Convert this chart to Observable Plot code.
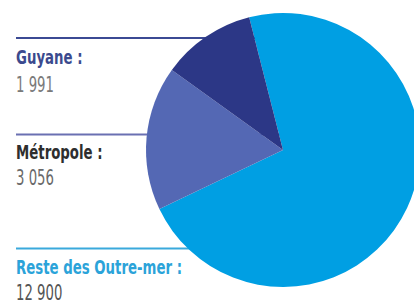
<!DOCTYPE html>
<html><head><meta charset="utf-8">
<script src="https://cdn.jsdelivr.net/npm/d3@7"></script>
<script src="https://cdn.jsdelivr.net/npm/@observablehq/plot@0.6"></script>
<style>body{margin:0;background:#fff;overflow:hidden}</style>
</head><body><div id="chart"></div>
<script>
// Data
const categories = ["Reste des Outre-mer", "Métropole", "Guyane"];
const values = [12900, 3056, 1991];
const labels = ["Reste des Outre-mer :", "Métropole :", "Guyane :"];
const valueLabels = ["12 900", "3 056", "1 991"];

// Styles
const sliceColors = ["#009fe3", "#5468b4", "#2c3786"];
const labelColors = ["#2ba3d9", "#2e2e2e", "#3b4a8e"];
const ruleColors = ["#3aa9dc", "#6a70b2", "#3b4a94"];
const valueColors = ["#555555", "#6a6a6a", "#7a7a7a"];

// Layout
const W = 414, H = 304;
const cx = 283, cy = 150, R = 137;
const startDeg = -14.3;
const ruleY = [248, 134, 37.5];
const labelY = [274, 159, 64];
const valueY = [300, 185, 92];
const textX = 16;
const labelSqueeze = 0.74, valueSqueeze = 0.67;

const data = categories.map((c, i) => ({
  category: c, value: values[i], label: labels[i], valueLabel: valueLabels[i],
  sliceColor: sliceColors[i], labelColor: labelColors[i], ruleColor: ruleColors[i],
  valueColor: valueColors[i], ruleY: ruleY[i], labelY: labelY[i], valueY: valueY[i]
}));

const s0 = startDeg * Math.PI / 180;
const arcs = d3.pie().sort(null).value(d => d.value).startAngle(s0).endAngle(s0 + 2 * Math.PI)(data);

function pieMark(index, scales, vals, dimensions, context) {
  const g = d3.select(context.document.createElementNS("http://www.w3.org/2000/svg", "g"));
  const x0 = scales.x(cx), y0 = scales.y(cy), r = scales.x(cx + R) - scales.x(cx);
  const arc = d3.arc().innerRadius(0).outerRadius(r);
  g.attr("transform", `translate(${x0},${y0})`)
    .selectAll("path").data(arcs).join("path")
    .attr("d", arc).attr("fill", d => d.data.sliceColor);
  return g.node();
}

const font = "'DejaVu Sans Condensed', 'DejaVu Sans', sans-serif";

const chart = Plot.plot({
  width: W, height: H,
  margin: 0,
  x: {domain: [0, W], range: [0, W], axis: null},
  y: {domain: [0, H], range: [0, H], axis: null},
  color: {type: "identity"},
  style: {background: "#fff"},
  marks: [
    Plot.ruleY(data, {y: "ruleY", x1: textX, x2: cx, stroke: d => d.ruleColor, strokeWidth: 2}),
    pieMark,
    Plot.text(data, {x: textX, y: "labelY", text: "label", fill: d => d.labelColor, textAnchor: "start", lineAnchor: "bottom", fontSize: 20, fontWeight: "bold", fontFamily: font}),
    Plot.text(data, {x: textX, y: "valueY", text: "valueLabel", fill: d => d.valueColor, textAnchor: "start", lineAnchor: "bottom", fontSize: 22, fontWeight: "normal", fontFamily: font})
  ]
});
// horizontally condense the text groups (the reference uses a condensed typeface)
const textGroups = chart.querySelectorAll('g[aria-label="text"]');
[labelSqueeze, valueSqueeze].forEach((k, i) => {
  if (textGroups[i]) textGroups[i].setAttribute("transform", `matrix(${k},0,0,1,${textX * (1 - k)},0)`);
});
document.getElementById("chart").appendChild(chart);
</script>
</body></html>
